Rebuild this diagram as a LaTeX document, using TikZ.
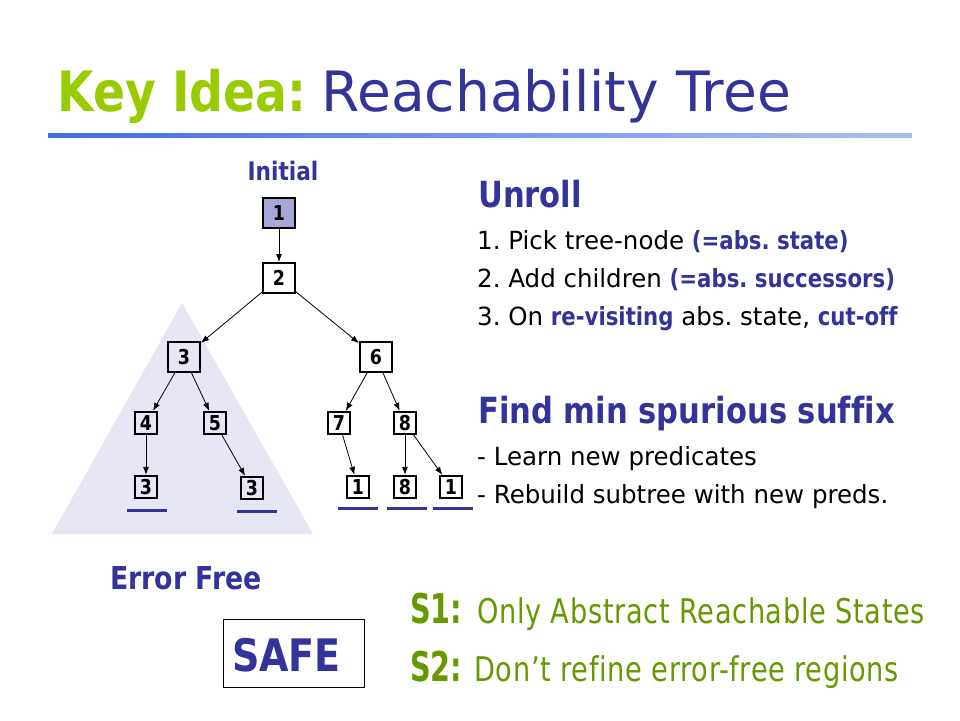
\documentclass[tikz,border=0pt]{standalone}
\usepackage{fontspec}
\setmainfont{DejaVu Sans}[FakeStretch=0.98, Ligatures=NoCommon]
\newfontfamily\ttl{DejaVu Sans}[FakeStretch=0.99, Ligatures=NoCommon]
\newfontfamily\bd{DejaVu Sans}[FakeStretch=0.85, Ligatures=NoCommon]
\newfontfamily\cnd{DejaVu Sans}[FakeStretch=0.8, Ligatures=NoCommon, LetterSpace=2]
\newfontfamily\cndb{DejaVu Sans}[FakeStretch=0.7, Ligatures=NoCommon]
\newcommand\mybold[1]{{\bd\bfseries #1}}
\newcommand\sz[1]{\fontsize{#1}{#1}\selectfont}
\usetikzlibrary{arrows.meta}
\definecolor{dblue}{RGB}{51,51,153}
\definecolor{tgreen}{RGB}{153,204,0}
\definecolor{sgreen}{RGB}{102,153,0}
\definecolor{nodefill}{RGB}{168,168,216}
\definecolor{trifill}{RGB}{230,230,245}
\definecolor{lineL}{RGB}{64,110,230}
\definecolor{lineR}{RGB}{170,192,242}
\tikzset{
  bigbox/.style={draw=black, line width=2pt, minimum width=32pt, minimum height=30pt, inner sep=0pt, font=\bd\bfseries\sz{20.5}},
  smallbox/.style={draw=black, line width=1.8pt, minimum width=22.5pt, minimum height=22.5pt, inner sep=0pt, font=\bd\bfseries\sz{20.5}},
  edge/.style={-{Latex[length=8pt,width=6pt]}, line width=0.8pt},
  txt/.style={anchor=base west, inner sep=0pt},
  uline/.style={line width=3pt, draw=dblue},
}
\begin{document}
\frenchspacing
\begin{tikzpicture}[x=1pt,y=-1pt]
\useasboundingbox[fill=white] (0,0) rectangle (960,720);
% title
\node[txt] (title) at (57,111) {\sz{55.6}\textcolor{tgreen}{\mybold{Key Idea:}}\hspace{15pt}\textcolor{dblue}{\ttl Reachability Tree}};
\shade[left color=lineL, right color=lineR] (48,133) rectangle (912,137);
% error-free region
\fill[trifill] (182,303) -- (313,534) -- (52,534) -- cycle;
% tree
\node[anchor=base, inner sep=0pt] (init) at (283,180) {\sz{25.5}\color{dblue}\mybold{Initial}};
\node[bigbox, fill=nodefill] (n1) at (279,213) {1};
\node[bigbox] (n2) at (279,278) {2};
\node[bigbox] (n3) at (184,357) {3};
\node[bigbox] (n6) at (376,357) {6};
\node[smallbox] (n4) at (146,423) {4};
\node[smallbox] (n5) at (215,423) {5};
\node[smallbox] (n7) at (339,423) {7};
\node[smallbox] (n8) at (405,423) {8};
\node[smallbox] (m3a) at (146,487) {3};
\node[smallbox] (m3b) at (252,488) {3};
\node[smallbox] (m1a) at (358,487) {1};
\node[smallbox] (m8) at (405,487) {8};
\node[smallbox] (m1b) at (451,487) {1};
\draw[edge] (n1) -- (n2);
\draw[edge] (n2) -- (n3);
\draw[edge] (n2) -- (n6);
\draw[edge] (n3) -- (n4);
\draw[edge] (n3) -- (n5);
\draw[edge] (n6) -- (n7);
\draw[edge] (n6) -- (n8);
\draw[edge] (n4) -- (m3a);
\draw[edge] (n5) -- (m3b);
\draw[edge] (n7) -- (m1a);
\draw[edge] (n8) -- (m8);
\draw[edge] (n8) -- (m1b);
% cut-off marks
\draw[uline] (127,510) -- (167,510);
\draw[uline] (237,511) -- (277,511);
\draw[uline] (338,508) -- (378,508);
\draw[uline] (387,508) -- (427,508);
\draw[uline] (433,508) -- (473,508);
% right column
\node[txt] (unroll) at (478,207) {\sz{36}\color{dblue}\mybold{Unroll}};
\node[txt] (l1) at (477,249) {\sz{25}1. Pick tree-node \textcolor{dblue}{\mybold{(=abs. state)}}};
\node[txt] (l2) at (477,287) {\sz{25}2. Add children \textcolor{dblue}{\mybold{(=abs. successors)}}};
\node[txt] (l3) at (477,325) {\sz{25}3. On \textcolor{dblue}{\mybold{re-visiting}} abs. state, \textcolor{dblue}{\mybold{cut-off}}};
\node[txt] (find) at (478,423) {\sz{36}\color{dblue}\mybold{Find min spurious suffix}};
\node[txt] (learn) at (477,465) {\sz{25}- Learn new predicates};
\node[txt] (rebuild) at (477,503) {\sz{25}- Rebuild subtree with new preds.};
% bottom
\node[txt] (errfree) at (110,589) {\sz{31.5}\color{dblue}\mybold{Error Free}};
\node[draw=black, line width=1pt, minimum width=141pt, minimum height=68pt, inner sep=0pt] (safebox) at (293.5,653.8) {};
\node[anchor=base, inner sep=0pt] (safe) at (286.5,671.7) {\sz{44.8}\color{dblue}\mybold{SAFE}};
\node[txt] (s1) at (410,623) {\color{sgreen}{\sz{41}\cndb\bfseries S1:}\hspace{15pt}{\sz{34}\cnd Only Abstract Reachable States}};
\node[txt] (s2) at (410,681.7) {\color{sgreen}{\sz{41}\cndb\bfseries S2:}\hspace{12pt}{\sz{34}\cnd Don’t refine error-free regions}};
\end{tikzpicture}
\end{document}
